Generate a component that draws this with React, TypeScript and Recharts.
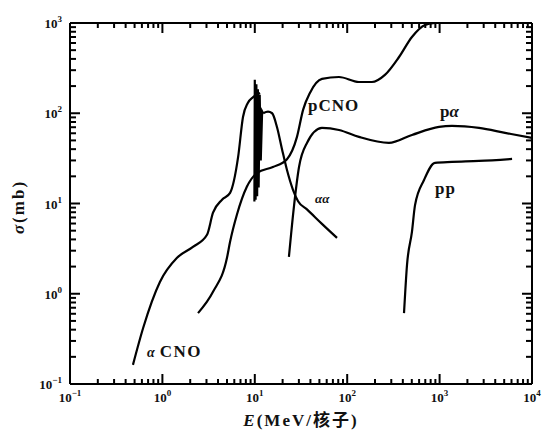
import React from 'react';
import { LineChart, Line, XAxis, YAxis } from 'recharts';

// cross sections, sigma (mb) vs E (MeV per nucleon)
const alphaCno = [
  { e: 0.48, s: 0.163 }, { e: 0.62, s: 0.42 }, { e: 0.94, s: 1.35 }, { e: 1.44, s: 2.5 },
  { e: 2.14, s: 3.3 }, { e: 3.04, s: 4.5 }, { e: 3.53, s: 7.9 }, { e: 4.42, s: 11 },
  { e: 5.4, s: 13.1 }, { e: 6.6, s: 32.8 }, { e: 7.45, s: 91 }, { e: 8.4, s: 130 },
  { e: 9.6, s: 151 }, { e: 11.4, s: 168 },
];

const alphaAlphaSpikes = [
  { e: 9.9, s: 10.5 }, { e: 10.0, s: 235 }, { e: 10.2, s: 11 }, { e: 10.4, s: 210 },
  { e: 10.6, s: 12 }, { e: 10.8, s: 185 }, { e: 11.0, s: 15 }, { e: 11.3, s: 160 },
  { e: 11.6, s: 30 }, { e: 12.0, s: 105 }, { e: 12.3, s: 100 },
];

const alphaAlpha = [
  { e: 12.3, s: 100 }, { e: 13.9, s: 104 }, { e: 15.4, s: 100 }, { e: 17.4, s: 70 },
  { e: 19.7, s: 40 }, { e: 22.3, s: 23.5 }, { e: 25.9, s: 14.2 }, { e: 29.4, s: 10.6 },
  { e: 36.7, s: 8.6 }, { e: 53.3, s: 5.95 }, { e: 77.6, s: 4.16 },
];

const pCno = [
  { e: 2.43, s: 0.61 }, { e: 3.53, s: 1.05 }, { e: 5.0, s: 2.5 }, { e: 5.4, s: 3.76 },
  { e: 6.4, s: 7.5 }, { e: 8.2, s: 15.3 }, { e: 10.6, s: 21.8 }, { e: 15.7, s: 25.4 },
  { e: 22.3, s: 31 }, { e: 28.6, s: 54.7 }, { e: 33.3, s: 109 }, { e: 39.5, s: 168 },
  { e: 53.3, s: 240 }, { e: 81.5, s: 252 }, { e: 134, s: 222 }, { e: 185, s: 222 },
  { e: 256, s: 266 }, { e: 364, s: 420 }, { e: 502, s: 700 }, { e: 695, s: 950 },
  { e: 891, s: 1000 },
];

const pAlpha = [
  { e: 23.4, s: 2.56 }, { e: 26.5, s: 9.2 }, { e: 30.1, s: 25.4 }, { e: 36.7, s: 46.9 },
  { e: 53.3, s: 68.7 }, { e: 81.5, s: 65.3 }, { e: 134, s: 54.7 }, { e: 283, s: 46.9 },
  { e: 502, s: 57.5 }, { e: 986, s: 70.5 }, { e: 1362, s: 72.3 }, { e: 2667, s: 68.7 },
  { e: 5105, s: 60.6 }, { e: 10000, s: 53.2 },
];

const pp = [
  { e: 412, s: 0.61 }, { e: 444, s: 2.09 }, { e: 502, s: 4.84 }, { e: 542, s: 9.6 },
  { e: 678, s: 18.2 }, { e: 891, s: 28.2 }, { e: 1362, s: 28.9 }, { e: 2667, s: 29.6 },
  { e: 6086, s: 31.2 },
];

const xMajor = [0.1, 1, 10, 100, 1000, 10000];
const xExp = ['\u22121', '0', '1', '2', '3', '4'];
const yMajor = [0.1, 1, 10, 100, 1000];
const yExp = ['\u22121', '0', '1', '2', '3'];
const minorMult = [2, 3, 4, 5, 6, 7, 8, 9];

const withMinors = (majors: number[]) => {
  const out = [...majors];
  majors.slice(0, -1).forEach((m) => minorMult.forEach((k) => out.push(+(m * k).toPrecision(3))));
  return out.sort((a, b) => a - b);
};
const xTicks = withMinors(xMajor);
const yTicks = withMinors(yMajor);

const W = 544;
const H = 430;
const LEFT = 70;
const RIGHT = 532;
const TOP = 23;
const BOTTOM = 384;
const PLOT_W = RIGHT - LEFT;
const PLOT_H = BOTTOM - TOP;
const OFF = 8; // default tickSize + tickMargin
const serif = '"Liberation Serif", "DejaVu Serif", serif';
const ink = '#111';

// curve names, placed next to their curves
const Annotations = () => {
  const common = { fontFamily: serif, fontWeight: 'bold', fill: ink } as const;
  return (
    <g>
      <text x={308} y={111} fontSize={17} letterSpacing={1} {...common}>pCNO</text>
      <text x={440} y={117} fontSize={17} {...common}>
        p<tspan fontStyle="italic">α</tspan>
      </text>
      <text x={315} y={203} fontSize={13} fontStyle="italic" {...common}>αα</text>
      <text x={435} y={194} fontSize={17} letterSpacing={1} {...common}>pp</text>
      <text x={147} y={357} fontSize={17} {...common}>
        <tspan fontStyle="italic" fontSize={14}>α</tspan>
        <tspan dx={5} letterSpacing={1.5}>CNO</tspan>
      </text>
      <text x={301} y={426} textAnchor="middle" fontSize={17} letterSpacing={2} {...common}>
        <tspan fontStyle="italic">E</tspan>(MeV/<tspan fontFamily='"Noto Sans CJK SC", sans-serif'>核子</tspan>)
      </text>
      <text x={18} y={207} transform="rotate(-90 18 207)" textAnchor="middle" dominantBaseline="central" fontSize={17} letterSpacing={2} {...common}>
        <tspan fontStyle="italic">σ</tspan>(mb)
      </text>
    </g>
  );
};

const XTick = (props: any) => {
  const { x, y, payload } = props;
  const i = xMajor.indexOf(payload.value);
  const len = i >= 0 ? 10 : 5;
  const y0 = y - OFF;
  return (
    <g>
      <line x1={x} x2={x} y1={y0} y2={y0 - len} stroke="#000" strokeWidth={2} />
      <line x1={x} x2={x} y1={y0 - PLOT_H} y2={y0 - PLOT_H + len} stroke="#000" strokeWidth={2} />
      {i === 0 && <line x1={x} x2={x + PLOT_W} y1={y0 - PLOT_H} y2={y0 - PLOT_H} stroke="#000" strokeWidth={2} />}
      {i === xMajor.length - 1 && <line x1={x} x2={x} y1={y0} y2={y0 - PLOT_H} stroke="#000" strokeWidth={2} />}
      {i >= 0 && (
        <text x={x} y={y0 + 18} textAnchor="middle" fontFamily={serif} fontWeight="bold" fontSize={13} fill={ink}>
          10<tspan dy={-6} fontSize={9}>{xExp[i]}</tspan>
        </text>
      )}
      {i === 0 && <Annotations />}
    </g>
  );
};

const YTick = (props: any) => {
  const { x, y, payload } = props;
  const i = yMajor.indexOf(payload.value);
  const len = i >= 0 ? 10 : 6;
  const x0 = x + OFF;
  return (
    <g>
      <line x1={x0} x2={x0 + len} y1={y} y2={y} stroke="#000" strokeWidth={2} />
      <line x1={x0 + PLOT_W} x2={x0 + PLOT_W - len} y1={y} y2={y} stroke="#000" strokeWidth={2} />
      {i >= 0 && (
        <text x={x0 - 8} y={y + 5} textAnchor="end" fontFamily={serif} fontWeight="bold" fontSize={13} fill={ink}>
          10<tspan dy={-6} fontSize={9}>{yExp[i]}</tspan>
        </text>
      )}
    </g>
  );
};

export default function App() {
  const lineProps = { dataKey: 's', stroke: '#000', strokeWidth: 2.2, dot: false, isAnimationActive: false } as const;
  return (
    <div style={{ position: 'absolute', left: 0, top: 0, width: W, height: H, background: '#fff' }}>
      <LineChart width={W} height={H} margin={{ top: TOP, right: W - RIGHT, bottom: 0, left: 0 }}>
        <XAxis
          dataKey="e"
          type="number"
          scale="log"
          domain={[0.1, 10000]}
          allowDataOverflow
          ticks={xTicks}
          interval={0}
          height={H - BOTTOM}
          tickLine={false}
          axisLine={{ stroke: '#000', strokeWidth: 2 }}
          tick={(p: any) => <XTick {...p} />}
        />
        <YAxis
          type="number"
          scale="log"
          domain={[0.1, 1000]}
          allowDataOverflow
          ticks={yTicks}
          interval={0}
          width={LEFT}
          tickLine={false}
          axisLine={{ stroke: '#000', strokeWidth: 2 }}
          tick={(p: any) => <YTick {...p} />}
        />
        <Line data={alphaCno} type="monotone" {...lineProps} />
        <Line data={alphaAlphaSpikes} type="linear" {...lineProps} />
        <Line data={alphaAlpha} type="monotone" {...lineProps} />
        <Line data={pCno} type="monotone" {...lineProps} />
        <Line data={pAlpha} type="monotone" {...lineProps} />
        <Line data={pp} type="monotone" {...lineProps} />
      </LineChart>
    </div>
  );
}
